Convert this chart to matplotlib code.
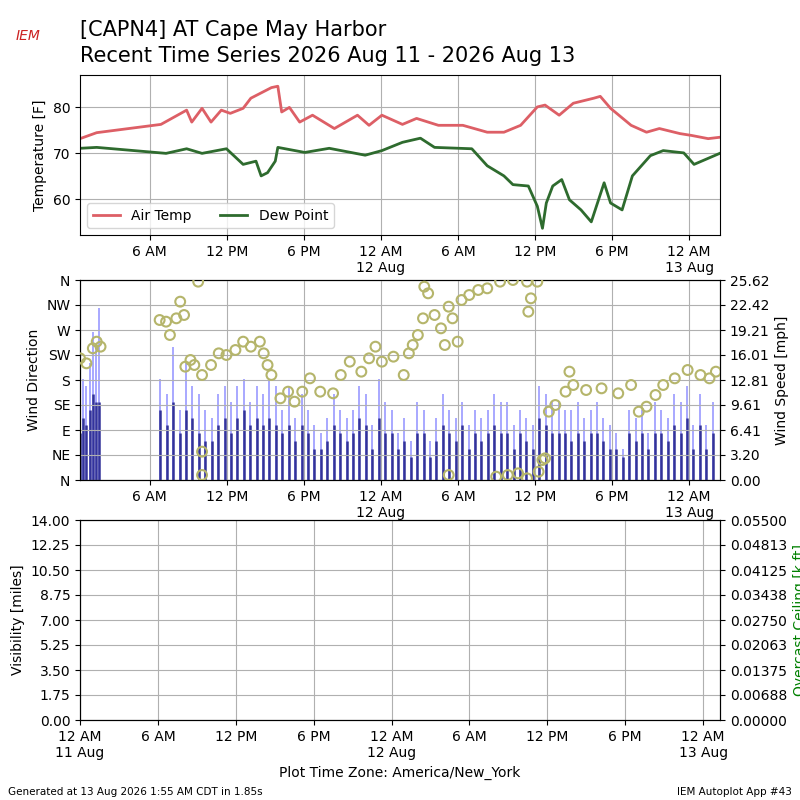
import matplotlib
matplotlib.use("Agg")
import matplotlib.pyplot as plt
import numpy as np

# first observation at 00:35 local on 2026-08-11; times below are hours since then
T0 = 0.58
temp_h = [0, 1.3, 6.3, 8.3, 8.7, 9.5, 10.2, 11.0, 11.7, 12.7, 13.3, 14.9, 15.4, 15.7, 16.3, 17.1, 18.1, 19.8, 21.6, 22.5, 23.5, 25.1, 26.2, 27.9, 29.8, 31.7, 33.0, 34.3, 35.6, 36.2, 37.3, 38.4, 40.0, 40.5, 41.3, 42.9, 44.1, 45.1, 46.7, 47.6, 48.9, 49.8]
air_temp = [73.2, 74.5, 76.3, 79.4, 76.8, 79.8, 76.8, 79.4, 78.7, 79.8, 82, 84.3, 84.6, 79, 80, 76.8, 78.3, 75.4, 78.3, 76.1, 78.3, 76.3, 77.6, 76.1, 76.1, 74.6, 74.6, 76.1, 80.1, 80.5, 78.3, 80.9, 82, 82.4, 79.8, 76.1, 74.6, 75.4, 74.3, 73.9, 73.2, 73.5]
dew_h = [0, 1.3, 6.7, 8.3, 9.5, 11.4, 12.7, 13.7, 14.1, 14.6, 15.2, 15.4, 17.5, 19.4, 22.2, 23.5, 25.1, 26.5, 27.6, 30.5, 31.7, 33.0, 33.7, 34.9, 35.6, 36.0, 36.3, 36.8, 37.5, 38.1, 39.0, 39.8, 40.8, 41.3, 42.2, 43.0, 44.4, 45.4, 47.0, 47.8, 49.8]
dew_point = [71.1, 71.3, 70.0, 71.0, 70.0, 71.0, 67.6, 68.3, 65.1, 65.8, 68.3, 71.3, 70.2, 71.1, 69.6, 70.6, 72.4, 73.3, 71.3, 71.0, 67.3, 65.1, 63.2, 62.9, 58.5, 53.7, 59.2, 62.9, 64.3, 59.9, 57.7, 55.1, 63.6, 59.2, 57.7, 65.1, 69.5, 70.6, 70.1, 67.6, 70.0]

dir_h = [0, 0.5, 1.0, 1.3, 1.6, 6.2, 6.7, 7.0, 7.5, 7.8, 8.1, 8.2, 8.6, 8.9, 9.2, 9.5, 9.5, 9.5, 10.2, 10.8, 11.4, 12.1, 12.7, 13.3, 14.0, 14.3, 14.6, 14.9, 15.6, 16.2, 16.7, 17.3, 17.9, 18.7, 19.7, 20.3, 21.0, 21.9, 22.5, 23.0, 23.5, 24.4, 25.2, 25.6, 25.9, 26.3, 26.7, 26.8, 27.1, 27.6, 28.1, 28.4, 28.7, 28.7, 29.0, 29.4, 29.7, 30.3, 31.0, 31.7, 32.4, 32.7, 33.3, 33.7, 34.1, 34.8, 34.8, 34.9, 35.1, 35.6, 35.7, 36.0, 36.2, 36.5, 37.0, 37.8, 38.1, 38.4, 39.4, 40.6, 41.9, 42.9, 43.5, 44.1, 44.8, 45.4, 46.3, 47.3, 48.3, 49.0, 49.5]
wind_dir = [219, 210, 237, 249, 240, 288, 285, 261, 291, 321, 297, 204, 216, 207, 357, 189, 51, 9, 207, 228, 225, 234, 249, 240, 249, 228, 207, 189, 147, 159, 141, 159, 183, 159, 156, 189, 213, 195, 219, 240, 213, 222, 189, 228, 243, 261, 291, 348, 336, 297, 273, 243, 312, 9, 291, 249, 324, 333, 342, 345, 6, 357, 9, 360, 12, 357, 3, 303, 327, 357, 15, 36, 39, 123, 135, 159, 195, 171, 162, 165, 156, 171, 123, 132, 153, 171, 183, 198, 189, 183, 195]

wind_h = [0, 0.25, 0.5, 0.75, 1.0, 1.25, 1.5] + list(np.arange(6.25, 49.4, 0.5))
gust = [10, 13, 12, 15, 19, 17, 22,
        13, 11, 17, 9, 15, 12, 11, 9, 8, 11, 12, 10, 12, 13, 10, 12, 11, 13,
        12, 9, 12, 8, 11, 9, 7, 6, 8, 11, 9, 8, 9, 12, 11, 7, 13, 10,
        9, 6, 8, 5, 10, 9, 5, 8, 11, 9, 8, 10, 7, 9, 8, 9, 11, 10,
        10, 7, 9, 8, 7, 12, 11, 10, 10, 9, 9, 10, 8, 9, 10, 8, 7, 6,
        4, 9, 8, 9, 6, 10, 9, 8, 11, 10, 12, 7, 11, 7, 10]
speed = [6, 8, 7, 9, 11, 10, 10,
         9, 7, 10, 6, 9, 8, 6, 5, 5, 7, 8, 6, 8, 9, 7, 8, 7, 8,
         7, 6, 7, 5, 7, 6, 4, 4, 5, 7, 6, 5, 6, 8, 7, 4, 8, 6,
         6, 4, 5, 3, 6, 6, 3, 5, 7, 6, 5, 7, 4, 6, 5, 6, 7, 6,
         6, 4, 6, 5, 4, 8, 7, 6, 6, 6, 5, 6, 5, 6, 6, 5, 4, 4,
         3, 6, 5, 6, 4, 6, 6, 5, 7, 6, 8, 4, 7, 4, 6]

dir_labels = ['N', 'NE', 'E', 'SE', 'S', 'SW', 'W', 'NW', 'N']
tick_h = [0, 6, 12, 18, 24, 30, 36, 42, 48]
tick_lbl = ['12 AM\n11 Aug', '6 AM', '12 PM', '6 PM', '12 AM\n12 Aug', '6 AM', '12 PM', '6 PM', '12 AM\n13 Aug']

def t(hs):
    return [h + T0 for h in hs]

XMIN, XMAX = 0.58, 50.4
fig = plt.figure(figsize=(8, 8), dpi=100)

fig.text(0.1, 0.962, '[CAPN4] AT Cape May Harbor', fontsize=15, va='center')
fig.text(0.1, 0.93, 'Recent Time Series 2026 Aug 11 - 2026 Aug 13', fontsize=15, va='center')
fig.text(0.035, 0.955, 'IEM', fontsize=10, color='#cc2222', style='italic', ha='center', va='center')
fig.text(0.01, 0.006, 'Generated at 13 Aug 2026 1:55 AM CDT in 1.85s', fontsize=7.5)
fig.text(0.99, 0.006, 'IEM Autoplot App #43', fontsize=7.5, ha='right')

ax1 = fig.add_axes([0.1, 0.706, 0.8, 0.2])
ax1.plot(t(temp_h), air_temp, color='#dd5f66', lw=2, label='Air Temp')
ax1.plot(t(dew_h), dew_point, color='#2e6b2e', lw=2, label='Dew Point')
ax1.set_ylim(52.2, 87)
ax1.set_yticks([60, 70, 80])
ax1.set_ylabel('Temperature [F]')
ax1.legend(loc='lower left', ncol=2)

ax2 = fig.add_axes([0.1, 0.4, 0.8, 0.25])
ax2b = ax2.twinx()
ax2b.vlines(t(wind_h), 0, gust, color='#9999ff', lw=1.2)
ax2b.vlines(t(wind_h), 0, speed, color='#333399', lw=1.8)
ax2b.set_ylim(0, 25.62)
ax2b.set_yticks(np.linspace(0, 25.62, 9))
ax2b.set_yticklabels(['%.2f' % v for v in np.linspace(0, 25.62, 9)])
ax2b.set_ylabel('Wind Speed [mph]')
ax2.set_zorder(ax2b.get_zorder() + 1)
ax2.patch.set_visible(False)
ax2.scatter(t(dir_h), wind_dir, s=50, facecolors='none', edgecolors='#b5b56b', lw=1.5, zorder=3)
ax2.set_ylim(0, 360)
ax2.set_yticks(range(0, 361, 45))
ax2.set_yticklabels(dir_labels)
ax2.set_ylabel('Wind Direction')

ax3 = fig.add_axes([0.1, 0.1, 0.8, 0.25])
ax3.set_ylim(0, 14)
ax3.set_yticks(np.arange(0, 14.01, 1.75))
ax3.set_yticklabels(['%.2f' % v for v in np.arange(0, 14.01, 1.75)])
ax3.set_ylabel('Visibility [miles]')
ax3b = ax3.twinx()
ax3b.set_ylim(0, 0.055)
ax3b.set_yticks(np.linspace(0, 0.055, 9))
ax3b.set_yticklabels(['%.5f' % v for v in np.linspace(0, 0.055, 9)])
ax3b.set_ylabel('Overcast Ceiling [k ft]', color='green')
ax3.set_xlabel('Plot Time Zone: America/New_York')

for ax in (ax1, ax2, ax3):
    ax.set_xticks(tick_h)
    ax.set_xticklabels(tick_lbl)
    ax.grid(True, color='#b0b0b0')
for ax in (ax1, ax2):
    ax.set_xlim(XMIN, XMAX)
ax2b.set_xlim(XMIN, XMAX)
ax3.set_xlim(0, 49.3)

fig.savefig('out.png')
